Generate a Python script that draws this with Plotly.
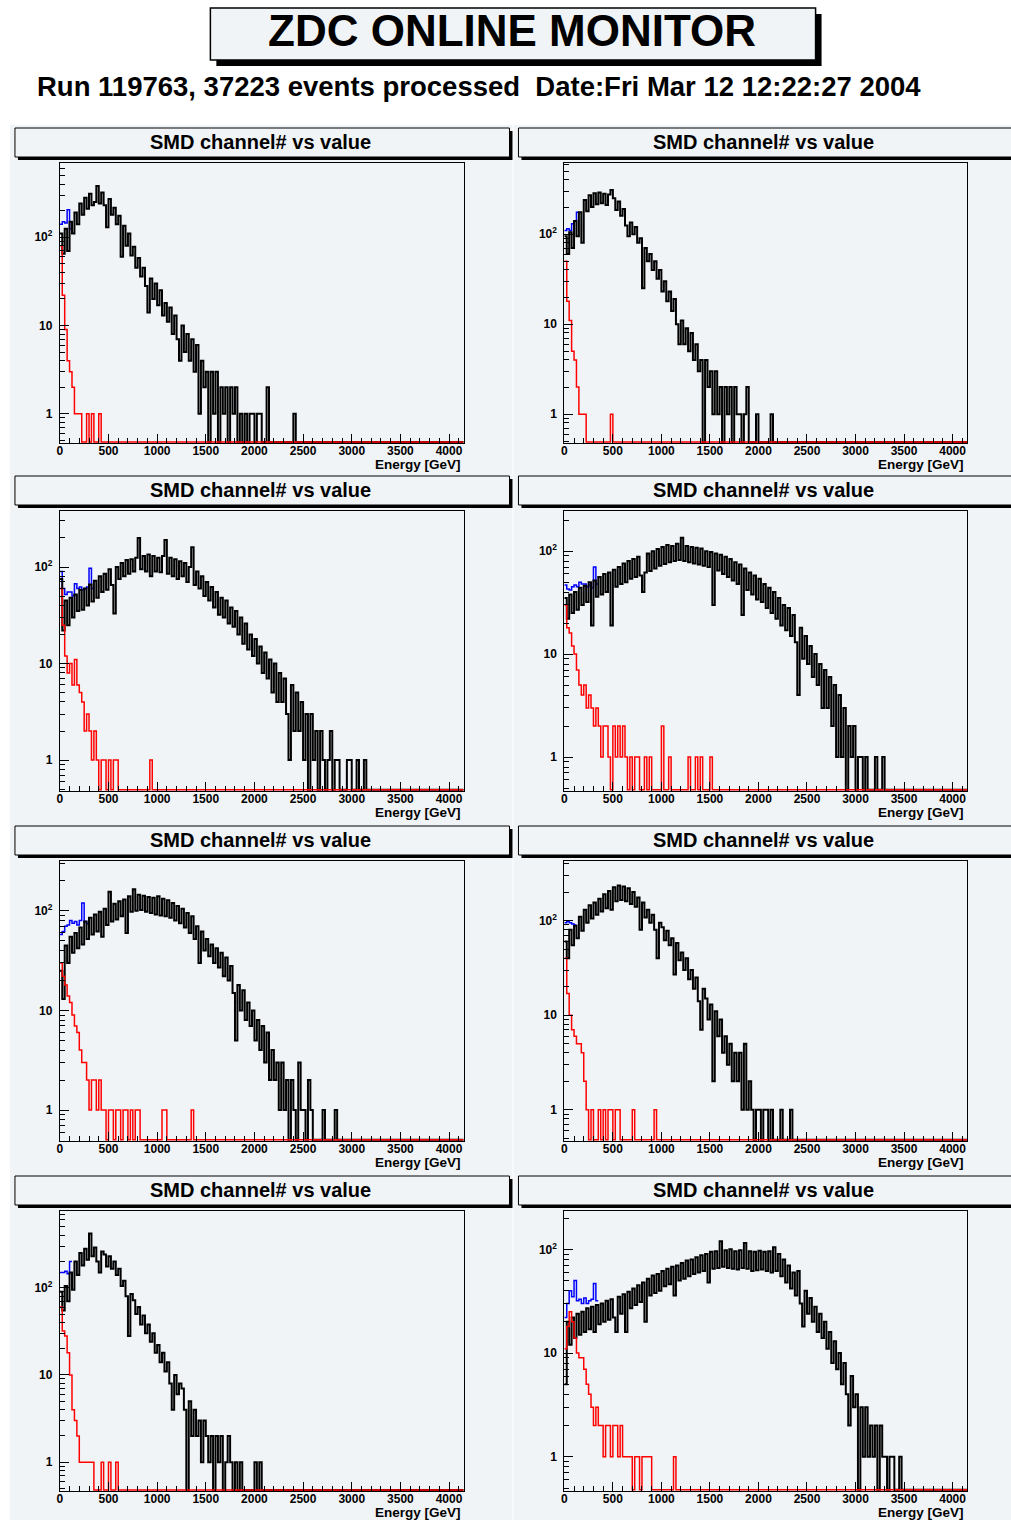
import plotly.graph_objs as go

W, H = 1011, 1520
BIN = 25        # GeV per bin
NBINS = 166     # 0 - 4150 GeV
PAD_COL = '#f1f4f6'
FONT = 'Liberation Sans'

# histogram contents, one value per 25 GeV bin starting at 0 GeV
p1_black = [110, 65, 125, 70, 150, 110, 190, 140, 240, 180,
            280, 210, 310, 230, 250, 380, 240, 320, 230, 130,
            270, 180, 215, 140, 175, 60, 135, 80, 110, 62,
            78, 45, 58, 36, 45, 28, 14, 34, 20, 30,
            17, 25, 13, 18, 11, 16, 8, 13, 7, 4,
            10, 5, 8, 4, 7, 3, 6, 1, 4, 2,
            3, 0, 3, 1, 3, 0, 2, 1, 2, 0,
            2, 1, 2, 0, 1, 0, 1, 0, 1, 1,
            0, 1, 1, 0, 0, 2, 0, 0, 0, 0,
            0, 0, 0, 0, 0, 0, 1]
p1_blue = [140, 150, 145, 205, 125]
p1_red = [80, 22, 9, 4, 3, 2, 1, 1, 1, 0, 0, 1, 0, 1, 0, 0, 1]

p2_black = [95, 60, 105, 70, 140, 95, 175, 80, 240, 180,
            270, 200, 285, 215, 290, 220, 280, 210, 275, 310,
            250, 185, 230, 160, 190, 125, 95, 135, 100, 120,
            80, 90, 25, 70, 50, 60, 40, 50, 32, 40,
            23, 30, 18, 23, 14, 19, 10, 6, 11, 6,
            9, 5, 8, 4, 6, 3, 4, 0, 4, 2,
            3, 1, 3, 1, 2, 0, 2, 1, 2, 0,
            2, 1, 1, 0, 1, 2, 0, 0, 0, 1,
            0, 0, 0, 0, 0, 1]
p2_blue = [110, 115, 110, 130, 140, 175]
p2_red = [50, 18, 11, 5, 4, 2, 1, 1, 1, 0, 0, 0, 0, 0, 0, 0, 0, 0, 0, 1]

p3_black = [75, 22, 45, 25, 48, 30, 52, 35, 58, 36,
            60, 40, 66, 44, 72, 48, 80, 55, 85, 58,
            95, 65, 33, 100, 75, 110, 80, 118, 85, 120,
            90, 125, 200, 95, 130, 90, 135, 80, 130, 90,
            125, 88, 130, 190, 85, 125, 80, 120, 75, 115,
            80, 110, 70, 100, 160, 65, 90, 60, 80, 50,
            70, 45, 62, 38, 55, 32, 48, 30, 45, 26,
            38, 24, 35, 20, 30, 16, 26, 14, 20, 12,
            18, 10, 15, 8, 13, 7, 11, 5, 10, 4,
            8, 4, 7, 3, 1, 6, 2, 5, 2, 4,
            1, 3, 0, 3, 1, 2, 0, 2, 1, 0,
            1, 2, 0, 1, 1, 0, 0, 0, 1, 1,
            0, 0, 1, 0, 0, 1]
p3_blue = [90, 60, 52, 55, 55, 50, 67, 60, 62, 58, 60, 62, 97, 60]
p3_red = [60, 25, 12, 8, 10, 6, 11, 6, 5, 4,
          2, 3, 2, 1, 2, 1, 0, 1, 1, 0,
          1, 0, 1, 1, 0, 0, 0, 0, 0, 0,
          0, 0, 0, 0, 0, 0, 0, 1]

p4_black = [35, 22, 38, 25, 40, 27, 44, 30, 46, 32,
            50, 19, 52, 36, 56, 38, 60, 40, 62, 19,
            66, 45, 70, 48, 76, 50, 80, 54, 84, 56,
            88, 58, 40, 62, 95, 64, 100, 68, 105, 72,
            110, 75, 115, 78, 112, 80, 118, 82, 135, 80,
            112, 78, 110, 76, 108, 74, 106, 72, 100, 70,
            98, 30, 95, 65, 92, 60, 88, 56, 84, 52,
            78, 48, 74, 24, 68, 42, 62, 38, 58, 34,
            54, 32, 48, 28, 44, 25, 40, 22, 35, 19,
            30, 17, 28, 15, 24, 13, 4, 18, 9, 15,
            8, 12, 6, 10, 5, 8, 3, 7, 3, 6,
            2, 5, 1, 4, 1, 3, 0, 2, 1, 2,
            0, 1, 1, 0, 1, 0, 0, 0, 1, 0,
            0, 1]
p4_blue = [47, 43, 42, 45, 47, 45, 50, 48, 48, 45, 47, 44, 70, 48]
p4_red = [30, 18, 16, 12, 10, 7, 5, 4, 5, 3,
          4, 3, 2, 3, 2, 1, 2, 2, 1, 0,
          2, 1, 2, 1, 2, 1, 0, 1, 0, 1,
          1, 0, 0, 1, 0, 1, 0, 0, 0, 0,
          2, 0, 0, 1, 0, 0, 0, 0, 0, 0,
          0, 1, 0, 0, 1, 0, 1, 0, 0, 0,
          1]

p5_black = [25, 13, 45, 30, 55, 38, 60, 42, 68, 46,
            78, 52, 85, 58, 92, 62, 98, 55, 105, 72,
            155, 78, 118, 82, 125, 88, 130, 60, 140, 98,
            165, 100, 145, 102, 142, 98, 138, 95, 135, 92,
            140, 90, 132, 88, 128, 85, 120, 80, 112, 75,
            105, 68, 95, 60, 88, 52, 70, 30, 62, 40,
            52, 35, 46, 30, 42, 27, 38, 22, 34, 20,
            28, 15, 5, 18, 10, 16, 8, 12, 7, 10,
            5, 8, 4, 7, 3, 6, 2, 4, 2, 3,
            1, 3, 1, 2, 0, 2, 1, 0, 3, 1,
            1, 0, 2, 1, 0, 0, 0, 0, 1, 0,
            0, 0, 0, 1]
p5_blue = [58, 62, 70, 72, 80, 75, 78, 72, 80, 120, 78, 74]
p5_red = [30, 22, 18, 14, 12, 9, 7, 6, 4, 3,
          3, 2, 1, 2, 2, 1, 2, 1, 1, 0,
          1, 1, 0, 1, 1, 0, 1, 1, 0, 1,
          0, 1, 1, 0, 0, 0, 0, 0, 0, 0,
          0, 0, 1, 1, 0, 0, 0, 0, 0, 0,
          0, 0, 0, 0, 1]

p6_black = [60, 40, 80, 55, 88, 65, 110, 78, 130, 95,
            145, 105, 155, 115, 170, 125, 190, 135, 205, 130,
            225, 160, 235, 165, 230, 160, 220, 150, 200, 140,
            175, 80, 155, 108, 130, 95, 115, 80, 40, 95,
            85, 62, 78, 55, 65, 27, 58, 38, 46, 30,
            40, 24, 30, 19, 25, 14, 7, 19, 15, 9,
            13, 2, 11, 6, 9, 4, 6, 3, 5, 2,
            4, 2, 4, 1, 5, 1, 2, 1, 0, 1,
            1, 0, 1, 1, 0, 1, 0, 0, 0, 1,
            0, 0, 0, 1]
p6_blue = [95, 98, 95, 92, 90]
p6_red = [40, 17, 10, 7, 6, 5, 5, 4, 2, 1,
          0, 1, 0, 0, 1, 0, 1, 0, 1, 1,
          0, 1, 1, 0, 0, 0, 0, 0, 1, 0,
          0, 0, 0, 0, 0, 0, 0, 1]

p7_black = [90, 55, 105, 70, 150, 95, 200, 140, 250, 180,
            280, 210, 420, 230, 290, 200, 150, 260, 240, 175,
            230, 165, 200, 140, 165, 105, 120, 80, 28, 85,
            72, 50, 60, 38, 48, 30, 38, 24, 30, 18,
            22, 14, 18, 11, 14, 8, 4, 10, 6, 8,
            7, 4, 0, 5, 2, 4, 2, 3, 1, 3,
            2, 1, 2, 0, 2, 1, 2, 0, 1, 2,
            1, 0, 1, 0, 1, 0, 0, 0, 0, 0,
            1, 0, 1]
p7_blue = [150, 150, 155, 145, 200]
p7_red = [60, 32, 28, 18, 10, 4, 3, 2, 1, 1,
          1, 1, 1, 1, 0, 0, 0, 1, 0, 0,
          1, 0, 0, 1]

p8_black = [5, 20, 12, 22, 14, 24, 15, 25, 16, 27,
            17, 28, 16, 29, 19, 30, 20, 32, 21, 33,
            22, 16, 35, 24, 37, 16, 39, 27, 42, 29,
            45, 31, 48, 20, 52, 36, 56, 38, 58, 40,
            62, 44, 65, 46, 68, 36, 70, 50, 74, 52,
            78, 55, 80, 58, 84, 60, 88, 62, 90, 48,
            95, 65, 96, 66, 120, 68, 98, 66, 100, 65,
            96, 64, 98, 66, 115, 65, 96, 62, 95, 63,
            97, 64, 95, 62, 96, 60, 105, 62, 90, 55,
            80, 48, 70, 42, 60, 36, 62, 30, 18, 40,
            24, 34, 20, 28, 16, 24, 14, 20, 11, 16,
            8, 13, 7, 10, 5, 8, 4, 2, 6, 3,
            4, 0, 3, 1, 3, 1, 2, 1, 2, 0,
            2, 1, 1, 0, 1, 1, 0, 0, 1]
p8_blue = [22, 30, 40, 35, 50, 32, 33, 30, 34, 30, 32, 33, 47, 32]
p8_red = [11, 18, 25, 20, 14, 10, 9, 9, 7, 5,
          4, 3, 2, 3, 2, 2, 1, 2, 2, 1,
          2, 2, 1, 2, 1, 1, 1, 1, 0, 1,
          1, 0, 1, 1, 1, 1, 0, 0, 0, 0,
          0, 0, 0, 0, 0, 1]

panels = [(p1_black, p1_blue, p1_red), (p2_black, p2_blue, p2_red),
          (p3_black, p3_blue, p3_red), (p4_black, p4_blue, p4_red),
          (p5_black, p5_blue, p5_red), (p6_black, p6_blue, p6_red),
          (p7_black, p7_blue, p7_red), (p8_black, p8_blue, p8_red)]

# log10 y range of each pad
y_ranges = [[-0.33, 2.84], [-0.32, 2.79], [-0.32, 2.58], [-0.33, 2.39],
            [-0.31, 2.50], [-0.33, 2.63], [-0.33, 2.88], [-0.33, 2.37]]

x_ticks = [0, 500, 1000, 1500, 2000, 2500, 3000, 3500, 4000]
x_labels = [str(v) for v in x_ticks]
y_ticks = [1, 10, 100]
y_labels = ['1', '10', '10<sup>2</sup>']

title_text = 'ZDC ONLINE MONITOR'
run_text = 'Run 119763, 37223 events processed  Date:Fri Mar 12 12:22:27 2004'
pad_title = 'SMD channel# vs value'
x_title = 'Energy [GeV]'

# layout in pixels
frame_x = [(57, 462), (563, 967)]
frame_top = [163, 511, 861, 1211]
frame_h = 280
pad_x = [(7, 511), (512, 1011)]
pad_y = [(125, 474), (474, 824), (824, 1174), (1174, 1520)]
box_x = [(12, 508), (517, 1016)]
text_x = [258, 763]

line_w = {'blue': 1.5, 'black': 2, 'red': 1.5}


def px(x):
    return x / W


def py(y):
    return 1 - y / H


def steps(vals, floor, pad):
    v = list(vals)
    if pad:
        v = v + [0] * (NBINS - len(v))
    xs = [i * BIN for i in range(len(v) + 1)]
    ys = [c if c > 0 else floor for c in v]
    ys.append(ys[-1])
    return xs, ys


def bold(size):
    return dict(family=FONT, size=size, color='black', weight='bold')


minor_x = [v for v in range(0, 4200, 100) if v % 500]
minor_y = [0.5, 0.6, 0.7, 0.8, 0.9] + list(range(2, 10)) + \
    list(range(20, 100, 10)) + list(range(200, 1000, 100))

fig = go.Figure()
shapes = []
annotations = []

for k, (blk, blu, red) in enumerate(panels):
    r, c = divmod(k, 2)
    ax = '' if k == 0 else str(k + 1)
    x0, x1 = frame_x[c]
    top = frame_top[r]
    bot = top + frame_h
    floor = 10 ** (y_ranges[k][0] + 0.012)

    for vals, col, pad in ((blu, 'blue', False), (blk, 'black', True), (red, 'red', True)):
        xs, ys = steps(vals, floor, pad)
        fig.add_trace(go.Scatter(x=xs, y=ys, mode='lines',
                                 line=dict(color=col, width=line_w[col], shape='hv'),
                                 xaxis='x' + ax, yaxis='y' + ax,
                                 hoverinfo='skip', showlegend=False))

    fig.update_layout(**{
        'xaxis' + ax: dict(domain=[px(x0), px(x1)], anchor='y' + ax,
                           range=[0, NBINS * BIN], showgrid=False, zeroline=False,
                           showline=True, mirror=True, linecolor='black', linewidth=1,
                           ticks='inside', ticklen=9, tickcolor='black',
                           tickvals=x_ticks, ticktext=x_labels, tickfont=bold(12),
                           ticklabelstandoff=-3,
                           minor=dict(tickvals=minor_x, ticks='inside', ticklen=5,
                                      tickcolor='black', showgrid=False)),
        'yaxis' + ax: dict(domain=[py(bot), py(top)], anchor='x' + ax, type='log',
                           range=y_ranges[k], showgrid=False, zeroline=False,
                           showline=True, mirror=True, linecolor='black', linewidth=1,
                           ticks='inside', ticklen=9, tickcolor='black',
                           tickvals=y_ticks, ticktext=y_labels, tickfont=bold(12),
                           ticklabelstandoff=4,
                           minor=dict(tickvals=minor_y, ticks='inside', ticklen=5,
                                      tickcolor='black', showgrid=False)),
    })

    # pad background
    shapes.append(dict(type='rect', xref='paper', yref='paper', layer='below',
                       x0=px(pad_x[c][0]), x1=px(pad_x[c][1]),
                       y0=py(pad_y[r][1]), y1=py(pad_y[r][0]),
                       fillcolor=PAD_COL, line=dict(width=0)))
    # title box with shadow
    bx0, bx1 = box_x[c]
    shapes.append(dict(type='rect', xref='paper', yref='paper',
                       x0=px(bx0 + 3), x1=px(bx1 + 3), y0=py(top - 3), y1=py(top - 32),
                       fillcolor='black', line=dict(width=0)))
    shapes.append(dict(type='rect', xref='paper', yref='paper',
                       x0=px(bx0), x1=px(bx1), y0=py(top - 6), y1=py(top - 35),
                       fillcolor=PAD_COL, line=dict(color='black', width=1)))
    annotations.append(dict(text=pad_title, x=px(text_x[c]), y=py(top - 21),
                            xref='paper', yref='paper', showarrow=False,
                            xanchor='center', yanchor='middle', font=bold(20)))
    annotations.append(dict(text=x_title, x=px(x1 - 1), y=py(bot + 21),
                            xref='paper', yref='paper', showarrow=False,
                            xanchor='right', yanchor='middle', font=bold(13.5)))

# main title box
shapes.append(dict(type='rect', xref='paper', yref='paper',
                   x0=px(214), x1=px(821), y0=py(66), y1=py(14),
                   fillcolor='black', line=dict(width=0)))
shapes.append(dict(type='rect', xref='paper', yref='paper',
                   x0=px(208), x1=px(815), y0=py(60), y1=py(8),
                   fillcolor=PAD_COL, line=dict(color='black', width=1.5)))
annotations.append(dict(text=title_text, x=px(511), y=py(30), xref='paper', yref='paper',
                        showarrow=False, xanchor='center', yanchor='middle', font=bold(44)))
annotations.append(dict(text=run_text, x=px(477), y=py(87), xref='paper', yref='paper',
                        showarrow=False, xanchor='center', yanchor='middle', font=bold(27.5)))

fig.update_layout(width=W, height=H, margin=dict(l=0, r=0, t=0, b=0),
                  paper_bgcolor='white', plot_bgcolor=PAD_COL,
                  shapes=shapes, annotations=annotations)

# drop the default page margin so the figure sits at the window corner
fig.write_html("out.html", config={'displayModeBar': False},
               post_script="document.body.style.margin='0px';")
